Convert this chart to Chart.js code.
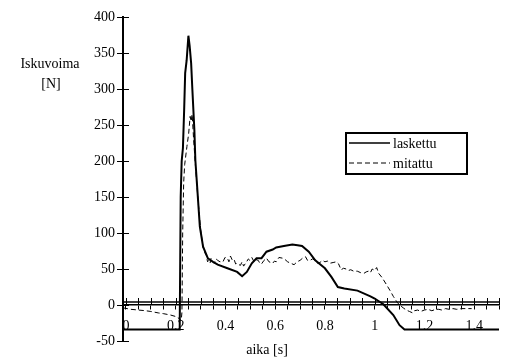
<!DOCTYPE html>
<html>
<head>
<meta charset="utf-8">
<script src="https://cdn.jsdelivr.net/npm/chart.js@4"></script>
<style>
  body { margin: 0; background: #fff; }
  canvas { display: block; }
</style>
</head>
<body>
<canvas id="chart" width="508" height="359"></canvas>
<script>
var ctx = document.getElementById("chart").getContext("2d");

// laskettu (calculated), solid
var timeCalc = [-0.012, 0.05, 0.1, 0.15, 0.2, 0.216, 0.22, 0.224, 0.229, 0.234, 0.238, 0.244, 0.251, 0.256, 0.262, 0.267, 0.275, 0.279, 0.288, 0.297, 0.31, 0.329, 0.35, 0.369, 0.408, 0.447, 0.467, 0.486, 0.506, 0.525, 0.545, 0.565, 0.59, 0.604, 0.635, 0.669, 0.69, 0.708, 0.735, 0.761, 0.8, 0.826, 0.852, 0.878, 0.931, 0.983, 1.0, 1.035, 1.075, 1.1, 1.12, 1.3, 1.5];
var forceCalc = [-34, -34, -34, -34, -34, -34, 150, 200, 218, 272, 322, 340, 374, 360, 336, 299, 243, 201, 155, 109, 81, 65, 60, 56, 51, 46, 40, 46, 58, 65, 65, 74, 77, 80, 82, 84, 83, 82, 74, 62, 51, 39, 25, 23, 20, 12, 9, 1, -14, -28, -34, -34, -34];

// mitattu (measured), dashed
var timeMeas = [-0.012, 0.02, 0.05, 0.08, 0.1, 0.13, 0.15, 0.18, 0.2, 0.215, 0.222, 0.225, 0.228, 0.232, 0.236, 0.245, 0.252, 0.258, 0.262, 0.266, 0.272, 0.28, 0.29, 0.3, 0.31, 0.318, 0.323, 0.328, 0.333, 0.338, 0.342, 0.348, 0.355, 0.362, 0.369, 0.378, 0.39, 0.398, 0.408, 0.414, 0.42, 0.428, 0.435, 0.441, 0.447, 0.455, 0.46, 0.467, 0.473, 0.479, 0.485, 0.492, 0.498, 0.506, 0.515, 0.523, 0.532, 0.538, 0.545, 0.555, 0.565, 0.575, 0.59, 0.597, 0.604, 0.615, 0.63, 0.64, 0.65, 0.662, 0.676, 0.688, 0.7, 0.71, 0.722, 0.73, 0.74, 0.75, 0.761, 0.77, 0.78, 0.79, 0.8, 0.81, 0.82, 0.833, 0.846, 0.855, 0.865, 0.875, 0.885, 0.895, 0.904, 0.915, 0.93, 0.943, 0.957, 0.966, 0.975, 0.983, 0.99, 1.0, 1.008, 1.016, 1.03, 1.048, 1.062, 1.075, 1.09, 1.1, 1.115, 1.127, 1.14, 1.153, 1.16, 1.173, 1.185, 1.2, 1.215, 1.23, 1.245, 1.258, 1.27, 1.285, 1.3, 1.315, 1.33, 1.35, 1.37, 1.39];
var forceMeas = [-4, -6, -7, -8, -9, -11, -12, -14, -16, -19, -22, -10, 100, 170, 195, 220, 238, 262, 255, 265, 230, 190, 145, 105, 80, 72, 69, 60, 62, 58, 65, 60, 58, 64, 62, 60, 60, 66, 65, 60, 68, 62, 63, 57, 58, 56, 55, 60, 54, 57, 60, 64, 62, 66, 60, 63, 62, 58, 57, 62, 65, 60, 58, 61, 60, 66, 65, 63, 60, 58, 56, 60, 62, 65, 67, 62, 62, 64, 62, 58, 59, 62, 60, 61, 58, 59, 60, 57, 49, 51, 50, 48, 49, 47, 47, 45, 44, 46, 47, 45, 50, 48, 52, 44, 38, 28, 20, 12, 4, 0, -4, -7, -9, -11, -8, -7, -9, -7, -6, -8, -6, -6, -7, -5, -6, -5, -6, -5, -5, -5];

var seriesNames = ["laskettu", "mitattu"];
var yTitle = ["Iskuvoima", "[N]"];
var xTitle = "aika [s]";
var xTickStep = 0.05;
var xTickCount = 30;

function toPoints(xs, ys) {
  return xs.map(function (x, i) { return { x: x, y: ys[i] }; });
}

var serif = "'Liberation Serif', 'DejaVu Serif', serif";
var fontSize = 14;

function isMajor(v) {
  var r = v / 0.2;
  return Math.abs(r - Math.round(r)) < 1e-6;
}

// ticks that cross the axes, second x axis line, titles and legend box
var extras = {
  id: "extras",
  afterDraw: function (chart) {
    var c = chart.ctx;
    var xs = chart.scales.x, ys = chart.scales.y;
    var y0 = ys.getPixelForValue(0);
    c.save();
    c.strokeStyle = "#000";
    c.lineWidth = 1.5;
    c.beginPath();
    c.moveTo(chart.chartArea.left, y0 - 3);
    c.lineTo(chart.chartArea.right, y0 - 3);
    c.stroke();
    c.lineWidth = 1;
    xs.ticks.forEach(function (t) {
      var px = Math.round(xs.getPixelForValue(t.value)) + 0.5;
      c.beginPath();
      c.moveTo(px, y0 - 7);
      c.lineTo(px, y0);
      c.stroke();
    });
    ys.ticks.forEach(function (t) {
      var py = Math.round(ys.getPixelForValue(t.value)) + 0.5;
      c.beginPath();
      c.moveTo(chart.chartArea.left, py);
      c.lineTo(chart.chartArea.left + 6, py);
      c.stroke();
    });

    c.fillStyle = "#000";
    c.font = fontSize + "px " + serif;
    c.textAlign = "center";
    c.textBaseline = "middle";
    c.fillText(yTitle[0], 50, 64);
    c.fillText(yTitle[1], 51, 84);
    c.fillText(xTitle, 267, 350);

    // legend
    c.lineWidth = 2;
    c.strokeRect(346, 133, 121, 41);
    var rows = [143, 163];
    chart.data.datasets.forEach(function (ds, i) {
      c.lineWidth = ds.borderWidth > 1 ? 1.5 : 1;
      c.setLineDash(ds.borderDash || []);
      c.beginPath();
      c.moveTo(349, rows[i]);
      c.lineTo(390, rows[i]);
      c.stroke();
      c.setLineDash([]);
      c.textAlign = "left";
      c.fillText(ds.label, 393, rows[i] + 1);
    });
    c.restore();
  }
};

var chart = new Chart(ctx, {
  type: "line",
  data: {
    datasets: [
      {
        label: seriesNames[0],
        data: toPoints(timeCalc, forceCalc),
        borderColor: "#000",
        borderWidth: 2,
        pointRadius: 0,
        tension: 0,
        fill: false
      },
      {
        label: seriesNames[1],
        data: toPoints(timeMeas, forceMeas),
        borderColor: "#000",
        borderWidth: 1,
        borderDash: [5, 3],
        pointRadius: 0,
        tension: 0,
        fill: false
      }
    ]
  },
  options: {
    responsive: false,
    animation: false,
    layout: { padding: { top: 17, right: 2, bottom: 18, left: 0 } },
    plugins: { legend: { display: false }, tooltip: { enabled: false } },
    scales: {
      x: {
        type: "linear",
        position: { y: 0 },
        min: -0.012,
        max: 1.5,
        afterBuildTicks: function (s) {
          var t = [];
          for (var i = 0; i <= xTickCount; i++) t.push({ value: i * xTickStep });
          s.ticks = t;
        },
        border: { display: true, color: "#000", width: 1.5 },
        grid: { drawOnChartArea: false, drawTicks: true, tickLength: 4, color: "#000" },
        ticks: {
          autoSkip: false,
          maxRotation: 0,
          padding: 9,
          color: "#000",
          font: { family: serif, size: fontSize },
          callback: function (v) {
            return isMajor(v) ? String(Number(v.toFixed(1))) : "";
          }
        }
      },
      y: {
        type: "linear",
        min: -50,
        max: 400,
        afterFit: function (s) { s.width = 123; },
        border: { display: true, color: "#000", width: 2 },
        grid: { drawOnChartArea: false, drawTicks: true, tickLength: 6, color: "#000" },
        ticks: {
          stepSize: 50,
          padding: 2,
          color: "#000",
          font: { family: serif, size: fontSize }
        }
      }
    }
  },
  plugins: [extras]
});
</script>
</body>
</html>
